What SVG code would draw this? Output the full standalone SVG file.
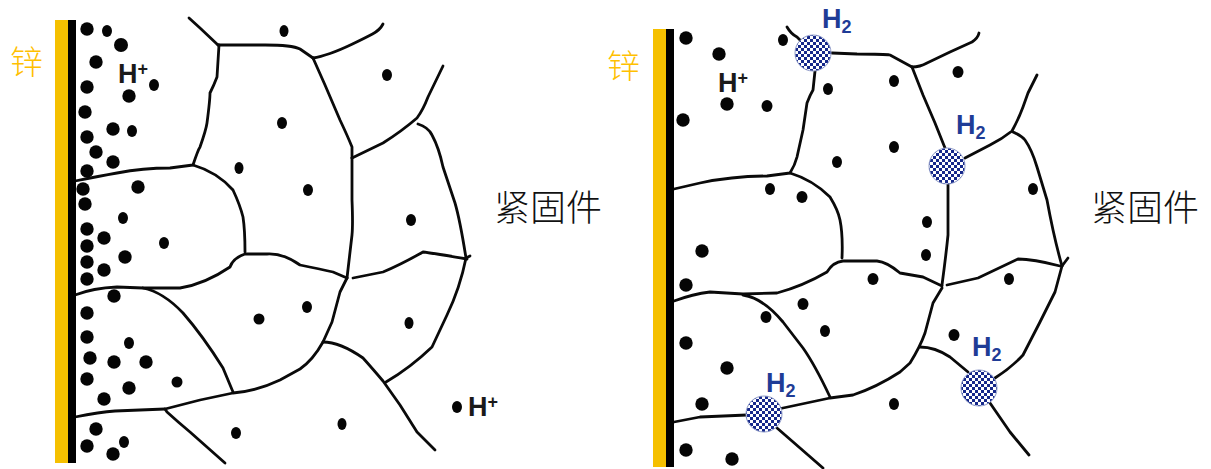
<svg xmlns="http://www.w3.org/2000/svg" width="1211" height="469" viewBox="0 0 1211 469">
<style>
.wall{fill:none;stroke:#0a0a0a;stroke-width:2.8;stroke-linecap:round;stroke-linejoin:round}
.zinc{fill:#f5c000}
.back{fill:#000}
.ion{fill:#050505}
.zn{font-family:"Noto Sans CJK SC",sans-serif;font-weight:300;font-size:33px;fill:#ffc000}
.part{font-family:"Noto Sans CJK SC",sans-serif;font-weight:300;font-size:36px;fill:#111}
.hp{font-family:"Liberation Sans",Arial,sans-serif;font-weight:700;font-size:27px;fill:#1a1a1a}
.hp tspan{font-size:18px}
.h2{font-family:"Liberation Sans",Arial,sans-serif;font-weight:700;font-size:27px;fill:#1f3c96}
.h2 tspan{font-size:18px}
.bubble{fill:url(#check);stroke:#8d99c8;stroke-width:1}
</style>
<defs>
<pattern id="check" width="6" height="6" patternUnits="userSpaceOnUse">
<rect width="6" height="6" fill="#16288a"/>
<rect width="3" height="3" fill="#fff"/>
<rect x="3" y="3" width="3" height="3" fill="#fff"/>
</pattern>
</defs>
<rect width="1211" height="469" fill="#fff"/>

<!-- grain boundaries of both fastener sections -->
<g id="connectors" class="wall">
<path d="M189,18 L200,28 L218,45"/>
<path d="M218,45 L265,45 Q292,45 300,49 L313,58"/>
<path d="M313,58 Q320,57 330,53.5 Q340,50 352.5,44 Q365,38 372.5,34 Q380,30 383,24"/>
<path d="M313,58 L325,85 L340,120 Q348,137 352,147 L352,158"/>
<path d="M352,158 L352,200 Q353,225 352,235 L347,278"/>
<path d="M352,158 L383,143 Q402,131 417,118 Q423,110 428,97 L443,66"/>
<path d="M418,124 Q428,127 432,135 Q439,148 443,167 L455,203 Q460,220 466,258"/>
<path d="M75,295 Q93,288 117,287 L143,288 L180,288 Q205,284 230,267 Q233,258 245,254 L267,254 Q283,253 300,265 Q320,269 333,272 L347,278"/>
<path d="M143,288 Q163,292 183,313 Q203,336 223,368 L233,392"/>
<path d="M75,417 Q100,412 115,411 L165,409 L200,400 L233,393 Q257,391 280,380 L300,369 Q313,360 323,342 L332,322 L340,292 L347,278"/>
<path d="M323,342 Q340,342 363,358 Q372,368 383,381 L400,405 L417,432 L435,450"/>
<path d="M386,382 Q410,368 432,347 L447,315 Q460,288 466,258 L470,256"/>
<path d="M353,278 L383,272 Q400,265 423,252 Q432,253 467,259"/>
<path d="M165,409 L167,412 Q178,422 190,432 L225,463"/>
<path d="M75,181 Q100,176 117,173 Q143,168 170,168 L193,165 Q198,150 200,147 Q206,130 207,123 Q210,100 210,93 Q214,85 217,77 L219,45"/>
<path d="M193,165 Q217,172 233,190 Q240,205 243,217 Q245,230 245,252"/>

<path d="M787,27 Q791,34 797,37 L803,43"/>
<path d="M832,53 L857,54 Q885,54 890,55 L912,67"/>
<path d="M912,67 Q920,67 927,63 L950,52 L972,42 Q978,38 979,33"/>
<path d="M912,67 L923,95 L935,123 L945,148"/>
<path d="M965,158 L990,145 Q1002,139 1012,131 Q1019,118 1023,107 L1028,93 L1037,75"/>
<path d="M1013,132 Q1022,136 1025,140 Q1032,150 1037,167 L1047,200 Q1054,238 1062,266"/>
<path d="M1062,266 L1068,258"/>
<path d="M948,183 L948,235 Q946,255 942,285"/>
<path d="M674,301 Q693,294 710,292 L743,294 L777,293 Q803,286 827,272 Q833,262 843,261 L877,261 Q887,262 900,273 L923,277 L942,286"/>
<path d="M947,285 L978,278 Q997,269 1018,259 Q1033,259 1060,266"/>
<path d="M942,288 L933,303 L925,333 Q920,347 910,363 L900,372 Q877,387 853,395 L830,398 L783,408 L760,413"/>
<path d="M920,347 Q935,347 950,357 L968,372"/>
<path d="M995,378 Q1012,367 1023,355 L1040,322 L1055,292 L1062,266"/>
<path d="M990,403 L1010,432 L1029,455"/>
<path d="M674,189 L700,183 Q733,176 767,176 L790,173 Q795,165 797,157 L803,130 L807,103 Q810,95 813,90 L815,71"/>
<path d="M790,173 Q813,180 830,197 Q838,210 840,220 Q843,235 842,258"/>
<path d="M743,295 Q763,298 783,322 L803,348 Q815,365 830,397"/>
<path d="M674,422 L700,417 L747,415"/>
<path d="M777,428 L800,448 L823,468"/>
</g>

<!-- left section: zinc coating, fastener edge, hydrogen ions -->
<g id="left-coating">
<rect class="zinc" x="55" y="20" width="13" height="443"/>
<rect class="back" x="68" y="20" width="8" height="443"/>
</g>
<g id="left-ions" class="ion">
<circle cx="87" cy="29" r="6.7"/><ellipse cx="107" cy="31" rx="5" ry="6"/><circle cx="121" cy="45" r="7"/><circle cx="96" cy="62" r="6.7"/>
<circle cx="87" cy="87" r="6.7"/><circle cx="129" cy="96" r="6.7"/><ellipse cx="154" cy="85" rx="5" ry="6"/><circle cx="85" cy="112" r="6.7"/>
<circle cx="113" cy="129" r="6.7"/><ellipse cx="132" cy="131" rx="5" ry="6"/><circle cx="87" cy="137" r="6.7"/><circle cx="96" cy="152" r="6.7"/>
<circle cx="113" cy="162" r="6.7"/><circle cx="87" cy="171" r="6.7"/><circle cx="83" cy="189" r="6.7"/><circle cx="85" cy="204" r="6.7"/>
<circle cx="138" cy="187" r="6.7"/><ellipse cx="123" cy="218" rx="5" ry="6"/><circle cx="87" cy="229" r="6.7"/><circle cx="104" cy="238" r="6.7"/>
<circle cx="87" cy="246" r="6.7"/><circle cx="125" cy="257" r="6.7"/><circle cx="87" cy="262" r="6.7"/><circle cx="104" cy="270" r="6.7"/>
<circle cx="87" cy="279" r="6.7"/><circle cx="114" cy="296" r="6.7"/><circle cx="87" cy="313" r="6.7"/><circle cx="87" cy="337" r="6.7"/>
<ellipse cx="129" cy="343" rx="5" ry="6"/><circle cx="90" cy="358" r="6.7"/><circle cx="114" cy="362" r="6.7"/><circle cx="146" cy="362" r="6.7"/>
<circle cx="87" cy="379" r="6.7"/><circle cx="129" cy="388" r="6.7"/><circle cx="177" cy="382" r="5.5"/><circle cx="104" cy="399" r="6.7"/>
<circle cx="96" cy="429" r="6.7"/><circle cx="87" cy="446" r="6.7"/><ellipse cx="124" cy="442" rx="5" ry="6"/><circle cx="113" cy="454" r="6.7"/>
<ellipse cx="164" cy="243" rx="5" ry="6"/><circle cx="259" cy="319" r="5.5"/><ellipse cx="284" cy="31" rx="4.5" ry="6"/><ellipse cx="282" cy="123" rx="5" ry="6"/>
<ellipse cx="239" cy="168" rx="4.5" ry="6"/><ellipse cx="387" cy="75" rx="5" ry="6"/><ellipse cx="308" cy="190" rx="5" ry="6"/><ellipse cx="411" cy="220" rx="5" ry="6"/>
<ellipse cx="307" cy="307" rx="5" ry="6"/><ellipse cx="409" cy="323" rx="4.5" ry="6"/><ellipse cx="342" cy="424" rx="4.5" ry="6"/><ellipse cx="457" cy="407" rx="5" ry="6"/>
<ellipse cx="236" cy="433" rx="5" ry="6"/>
</g>
<g id="left-labels">
<text class="zn" x="10" y="74">锌</text>
<text class="hp" x="118" y="83">H<tspan dy="-8">+</tspan></text>
<text class="hp" x="468" y="416">H<tspan dy="-8">+</tspan></text>
<text class="part" x="494" y="221">紧固件</text>
</g>

<!-- right section: coating, ions and hydrogen bubbles at the boundaries -->
<g id="right-coating">
<rect class="zinc" x="653" y="29" width="13" height="438"/>
<rect class="back" x="666" y="29" width="8" height="438"/>
</g>
<g id="right-ions" class="ion">
<circle cx="686" cy="38" r="6.7"/><circle cx="719" cy="54" r="6.7"/><ellipse cx="783" cy="40" rx="5" ry="6"/><circle cx="727" cy="104" r="6.7"/>
<ellipse cx="767" cy="106" rx="5.5" ry="6"/><circle cx="683" cy="120" r="6.7"/><ellipse cx="828" cy="89" rx="5" ry="6"/><ellipse cx="894" cy="81" rx="5" ry="6"/>
<ellipse cx="894" cy="147" rx="5" ry="6"/><ellipse cx="837" cy="162" rx="5" ry="6"/><ellipse cx="770" cy="189" rx="5" ry="6"/><ellipse cx="802" cy="197" rx="5.5" ry="6"/>
<circle cx="702" cy="251" r="6.7"/><circle cx="686" cy="285" r="6.7"/><ellipse cx="873" cy="279" rx="5.5" ry="6"/><ellipse cx="803" cy="304" rx="5.5" ry="6"/>
<ellipse cx="766" cy="317" rx="5.5" ry="6"/><ellipse cx="825" cy="331" rx="5" ry="6"/><circle cx="686" cy="343" r="6.7"/><circle cx="727" cy="368" r="6.7"/>
<circle cx="702" cy="404" r="6.7"/><ellipse cx="894" cy="404" rx="5" ry="6"/><circle cx="686" cy="450" r="6.7"/><circle cx="732" cy="459" r="6.7"/>
<ellipse cx="958" cy="72" rx="5.5" ry="6"/><ellipse cx="1033" cy="189" rx="5" ry="6"/><ellipse cx="927" cy="222" rx="5" ry="6"/><ellipse cx="926" cy="255" rx="5" ry="6"/>
<ellipse cx="1009" cy="279" rx="5" ry="6"/><ellipse cx="954" cy="335" rx="5.5" ry="6"/>
</g>
<g id="bubble-top"><circle class="bubble" cx="813" cy="53" r="18"/><text class="h2" x="822" y="28">H<tspan dy="5">2</tspan></text></g>
<g id="bubble-middle"><circle class="bubble" cx="947" cy="166" r="18"/><text class="h2" x="956" y="134">H<tspan dy="5">2</tspan></text></g>
<g id="bubble-lower-left"><circle class="bubble" cx="764" cy="414" r="18"/><text class="h2" x="766" y="392">H<tspan dy="5">2</tspan></text></g>
<g id="bubble-lower-right"><circle class="bubble" cx="979" cy="388" r="18"/><text class="h2" x="972" y="356">H<tspan dy="5">2</tspan></text></g>
<g id="right-labels">
<text class="zn" x="607" y="78">锌</text>
<text class="hp" x="718" y="92">H<tspan dy="-8">+</tspan></text>
<text class="part" x="1091" y="221">紧固件</text>
</g>
</svg>
